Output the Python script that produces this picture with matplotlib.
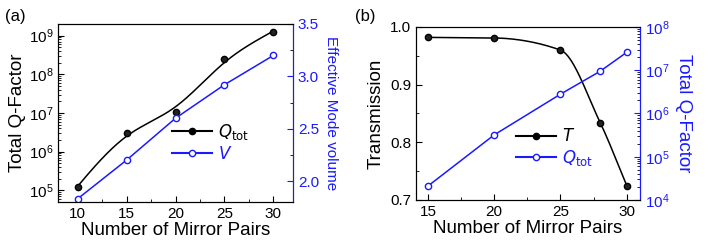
import numpy as np
import matplotlib.pyplot as plt
from matplotlib.ticker import MultipleLocator, LogLocator, NullFormatter

plt.rcParams['font.family'] = ['Liberation Sans', 'DejaVu Sans']

# panel (a) data
pairs_a = [10, 15, 20, 25, 30]
q_a = [1.2e5, 3.1e6, 1.05e7, 2.5e8, 1.25e9]
v_a = [1.83, 2.2, 2.6, 2.92, 3.2]

# panel (b) data
pairs_b = [15, 20, 25, 28, 30]
t_b = [0.982, 0.981, 0.960, 0.834, 0.725]
q_b = [2.1e4, 3.2e5, 2.8e6, 9.5e6, 2.6e7]

blue = '#1a1aff'


# natural cubic spline, used only to draw the smooth guide curves
def spline(x, y, xs):
    x = np.asarray(x, float)
    y = np.asarray(y, float)
    n = len(x)
    h = np.diff(x)
    A = np.zeros((n, n))
    r = np.zeros(n)
    A[0, 0] = A[-1, -1] = 1
    for i in range(1, n - 1):
        A[i, i - 1] = h[i - 1]
        A[i, i] = 2 * (h[i - 1] + h[i])
        A[i, i + 1] = h[i]
        r[i] = 6 * ((y[i + 1] - y[i]) / h[i] - (y[i] - y[i - 1]) / h[i - 1])
    m = np.linalg.solve(A, r)
    k = np.clip(np.searchsorted(x, xs) - 1, 0, n - 2)
    t0 = x[k + 1] - xs
    t1 = xs - x[k]
    hk = h[k]
    return (m[k] * t0**3 / (6 * hk) + m[k + 1] * t1**3 / (6 * hk)
            + (y[k] / hk - m[k] * hk / 6) * t0
            + (y[k + 1] / hk - m[k + 1] * hk / 6) * t1)


# monotone (pchip) interpolation
def pchip(x, y, xs):
    x = np.asarray(x, float)
    y = np.asarray(y, float)
    h = np.diff(x)
    d = np.diff(y) / h
    n = len(x)
    m = np.zeros(n)
    m[0], m[-1] = d[0], d[-1]
    for i in range(1, n - 1):
        if d[i - 1] * d[i] > 0:
            w1 = 2 * h[i] + h[i - 1]
            w2 = h[i] + 2 * h[i - 1]
            m[i] = (w1 + w2) / (w1 / d[i - 1] + w2 / d[i])
    k = np.clip(np.searchsorted(x, xs) - 1, 0, n - 2)
    t = (xs - x[k]) / h[k]
    h00 = 2 * t**3 - 3 * t**2 + 1
    h10 = t**3 - 2 * t**2 + t
    h01 = -2 * t**3 + 3 * t**2
    h11 = t**3 - t**2
    return h00 * y[k] + h10 * h[k] * m[k] + h01 * y[k + 1] + h11 * h[k] * m[k + 1]


fig = plt.figure(figsize=(7.08, 2.45), dpi=100)


def style_ax(ax):
    ax.tick_params(direction='in', which='both', labelsize=11)
    ax.tick_params(which='major', length=4)
    ax.tick_params(which='minor', length=2)


# ---------- (a) ----------
ax1 = fig.add_axes([58/708, 43/245, 235/708, 178/245])
ax1.set_yscale('log')
xs = np.linspace(10, 30, 200)
lq = np.log10(q_a)
smooth = 0.5 * spline(pairs_a, lq, xs) + 0.5 * np.polyval(np.polyfit(pairs_a, lq, 3), xs)
ax1.plot(xs, 10**smooth, color='black', lw=1.1)
ax1.plot(pairs_a, q_a, 'o', color='#222222', ms=4.5, mec='black')
ax1.set_xlim(8, 32)
ax1.set_ylim(5e4, 2e9)
ax1.xaxis.set_major_locator(MultipleLocator(5))
ax1.xaxis.set_minor_locator(MultipleLocator(2.5))
ax1.yaxis.set_major_locator(LogLocator(base=10, numticks=10))
ax1.yaxis.set_minor_formatter(NullFormatter())
ax1.set_xlabel('Number of Mirror Pairs', fontsize=13.5, labelpad=1)
ax1.set_ylabel('Total Q-Factor', fontsize=13.5, labelpad=2)
style_ax(ax1)

ax1r = ax1.twinx()
ax1r.plot(pairs_a, v_a, '-o', color=blue, lw=1.1, ms=4.5, mfc='white', mec=blue)
ax1r.set_ylim(1.8, 3.5)
ax1r.yaxis.set_major_locator(MultipleLocator(0.5))
ax1r.yaxis.set_minor_locator(MultipleLocator(0.25))
ax1r.yaxis.set_major_formatter(plt.FormatStrFormatter('%.1f'))
style_ax(ax1r)
ax1r.tick_params(axis='y', colors=blue, labelcolor=blue)
ax1r.spines['right'].set_color(blue)
ax1r.set_ylabel('Effective Mode volume', fontsize=11, color=blue, rotation=270,
                labelpad=14)

ax1.plot([], [], '-o', color='black', ms=4.5, label=r'$Q$$_{\rm tot}$')
ax1.plot([], [], '-o', color=blue, ms=4.5, mfc='white', mec=blue, label=r'$V$')
leg1 = ax1.legend(loc='lower right', bbox_to_anchor=(0.88, 0.14), frameon=False,
                  fontsize=12, handlelength=2.4, handletextpad=0.4, labelspacing=0.2)
leg1.get_texts()[1].set_color(blue)
fig.text(5/708, 1 - 17/245, '(a)', fontsize=12, va='center')

# ---------- (b) ----------
ax2 = fig.add_axes([416/708, 45/245, 224/708, 173/245])
xs2 = np.linspace(15, 30, 200)
ax2.plot(xs2, pchip(pairs_b, t_b, xs2), color='black', lw=1.1)
ax2.plot(pairs_b, t_b, 'o', color='#222222', ms=4.5, mec='black')
ax2.set_xlim(14.1, 31)
ax2.set_ylim(0.7, 1.0)
ax2.xaxis.set_major_locator(MultipleLocator(5))
ax2.xaxis.set_minor_locator(MultipleLocator(2.5))
ax2.yaxis.set_major_locator(MultipleLocator(0.1))
ax2.yaxis.set_minor_locator(MultipleLocator(0.05))
ax2.set_xlabel('Number of Mirror Pairs', fontsize=13.5, labelpad=1)
ax2.set_ylabel('Transmission', fontsize=13.5, labelpad=4)
style_ax(ax2)

ax2r = ax2.twinx()
ax2r.set_yscale('log')
ax2r.plot(pairs_b, q_b, '-o', color=blue, lw=1.1, ms=4.5, mfc='white', mec=blue)
ax2r.set_ylim(1e4, 1e8)
ax2r.yaxis.set_major_locator(LogLocator(base=10, numticks=10))
ax2r.yaxis.set_minor_formatter(NullFormatter())
style_ax(ax2r)
ax2r.tick_params(axis='y', colors=blue, labelcolor=blue)
ax2r.spines['right'].set_color(blue)
ax2r.set_ylabel('Total Q-Factor', fontsize=13.5, color=blue, rotation=270,
                labelpad=16)

ax2.plot([], [], '-o', color='black', ms=4.5, label=r'$T$')
ax2.plot([], [], '-o', color=blue, ms=4.5, mfc='white', mec=blue,
         label=r'$Q$$_{\rm tot}$')
leg2 = ax2.legend(loc='lower right', bbox_to_anchor=(0.86, 0.1), frameon=False,
                  fontsize=12, handlelength=2.4, handletextpad=0.4, labelspacing=0.2)
leg2.get_texts()[1].set_color(blue)
fig.text(355/708, 1 - 17/245, '(b)', fontsize=12, va='center')

fig.savefig('out.png', dpi=100)
